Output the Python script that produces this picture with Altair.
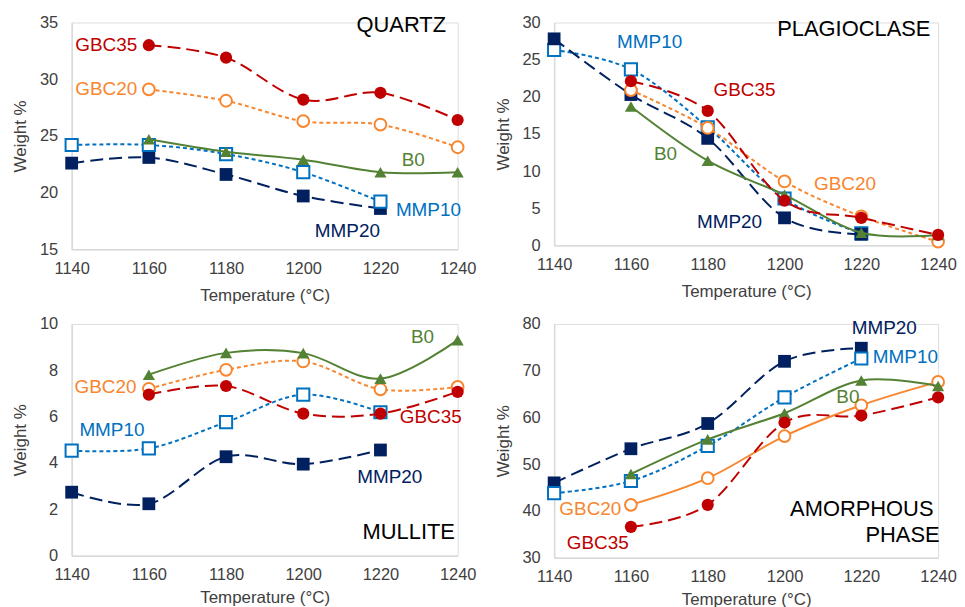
import altair as alt
import pandas as pd

temps = [1140, 1160, 1180, 1200, 1220, 1240]
series_names = ["MMP20", "MMP10", "GBC20", "B0", "GBC35"]

# ---- QUARTZ ----
quartz_MMP20 = [22.6, 23.1, 21.6, 19.7, 18.6, None]
quartz_MMP10 = [24.2, 24.2, 23.4, 21.8, 19.2, None]
quartz_GBC20 = [None, 29.1, 28.1, 26.3, 26.0, 24.0]
quartz_B0 = [None, 24.7, 23.6, 22.9, 21.8, 21.8]
quartz_GBC35 = [None, 33.0, 31.9, 28.2, 28.8, 26.4]

# ---- PLAGIOCLASE ----
plag_MMP20 = [27.8, 20.3, 14.4, 3.7, 1.5, None]
plag_MMP10 = [26.3, 23.7, 15.9, 6.3, 1.6, None]
plag_GBC20 = [None, 20.9, 15.8, 8.6, 3.9, 0.5]
plag_B0 = [None, 18.7, 11.4, 6.8, 1.7, 1.4]
plag_GBC35 = [None, 22.1, 18.1, 6.0, 3.7, 1.4]

# ---- MULLITE ----
mull_MMP20 = [2.74, 2.24, 4.27, 3.95, 4.56, None]
mull_MMP10 = [4.53, 4.63, 5.76, 6.95, 6.19, None]
mull_GBC20 = [None, 7.2, 8.02, 8.38, 7.18, 7.28]
mull_B0 = [None, 7.81, 8.75, 8.74, 7.64, 9.3]
mull_GBC35 = [None, 6.95, 7.32, 6.13, 6.13, 7.07]

# ---- AMORPHOUS PHASE ----
amor_MMP20 = [46.0, 53.3, 58.7, 72.0, 74.8, None]
amor_MMP10 = [43.8, 46.4, 53.9, 64.3, 72.6, None]
amor_GBC20 = [None, 41.3, 47.0, 56.0, 62.6, 67.6]
amor_B0 = [None, 47.9, 55.3, 60.9, 67.9, 66.7]
amor_GBC35 = [None, 36.6, 41.3, 58.9, 60.4, 64.3]

# labels: text, temperature, value, align
quartz_labels = [["GBC35", 1157, 33.0, "right"], ["GBC20", 1157, 29.1, "right"],
                 ["B0", 1225.5, 22.9, "left"], ["MMP10", 1224, 18.5, "left"],
                 ["MMP20", 1203, 16.6, "left"]]
plag_labels = [["MMP10", 1156.4, 27.4, "left"], ["GBC35", 1181.5, 20.9, "left"],
               ["B0", 1166, 12.3, "left"], ["GBC20", 1207.7, 8.2, "left"],
               ["MMP20", 1177.2, 3.2, "left"]]
mull_labels = [["B0", 1227.9, 9.43, "left"], ["GBC20", 1156.8, 7.28, "right"],
               ["MMP10", 1142, 5.44, "left"], ["GBC35", 1225, 5.99, "left"],
               ["MMP20", 1214, 3.41, "left"]]
amor_labels = [["MMP20", 1217.5, 79.1, "left"], ["MMP10", 1223, 72.9, "left"],
               ["B0", 1213.5, 64.4, "left"], ["GBC20", 1157.5, 40.5, "right"],
               ["GBC35", 1143.3, 33.2, "left"]]

quartz_title = [["QUARTZ", 1237, 34.8]]
plag_title = [["PLAGIOCLASE", 1238, 29.1]]
mull_title = [["MULLITE", 1239.3, 1.0]]
amor_title = [["AMORPHOUS", 1238.8, 40.3], ["PHASE", 1240.4, 34.8]]

FONT = "Liberation Sans"
AXIS_COLOR = "#404040"

style = {
    "MMP20": dict(color="#002060", dash=[13, 6], shape="square", open=False, size=165),
    "MMP10": dict(color="#0070C0", dash=[4, 3], shape="square", open=True, size=150),
    "GBC20": dict(color="#F7862F", dash=[4, 3], shape="circle", open=True, size=140),
    "B0": dict(color="#548235", dash=None, shape="triangle-up", open=False, size=150),
    "GBC35": dict(color="#C00000", dash=[13, 6], shape="circle", open=False, size=150),
}


def panel(series, labels, titles, ymin, ymax, ystep, width, height, solid=(),
          order=series_names, x_title_pad=10):
    xenc = alt.X("temp:Q", scale=alt.Scale(domain=[1140, 1240], nice=False),
                 axis=alt.Axis(values=temps, format="d", title="Temperature (°C)",
                               grid=False, ticks=False, tickSize=0,
                               domainColor="#D9D9D9", domainWidth=1.5,
                               labelFlush=False, labelFontSize=16.5, labelColor=AXIS_COLOR,
                               labelFont=FONT, labelPadding=11,
                               titleFont=FONT, titleFontSize=17, titleFontWeight="normal",
                               titleColor=AXIS_COLOR, titlePadding=x_title_pad))
    yenc = lambda field: alt.Y(field, scale=alt.Scale(domain=[ymin, ymax], nice=False),
                               axis=alt.Axis(values=list(range(ymin, ymax + 1, ystep)),
                                             title="Weight %", grid=False, ticks=False, tickSize=0,
                                             domainColor="#D9D9D9", domainWidth=1.5,
                                             labelFontSize=16.5, labelColor=AXIS_COLOR,
                                             labelFont=FONT, labelPadding=14,
                                             titleFont=FONT, titleFontSize=17,
                                             titleFontWeight="normal", titleColor=AXIS_COLOR,
                                             titlePadding=10))
    layers = []
    for name in order:
        vals = series[name]
        df = pd.DataFrame({"temp": temps, "val": vals}).dropna()
        st = style[name]
        line_kw = dict(color=st["color"], strokeWidth=2, interpolate="cardinal", tension=0)
        if st["dash"] is not None and name not in solid:
            line_kw["strokeDash"] = st["dash"]
        base = alt.Chart(df)
        layers.append(base.mark_line(**line_kw).encode(x=xenc, y=yenc("val:Q")))
        if st["open"]:
            pt = base.mark_point(shape=st["shape"], filled=True, fill="white",
                                 stroke=st["color"], strokeWidth=2, size=st["size"], opacity=1)
        else:
            pt = base.mark_point(shape=st["shape"], filled=True, color=st["color"],
                                 size=st["size"], opacity=1)
        layers.append(pt.encode(x=xenc, y=yenc("val:Q")))
    for text, t, v, align in labels:
        df = pd.DataFrame({"temp": [t], "val": [v], "txt": [text]})
        layers.append(alt.Chart(df).mark_text(align=align, baseline="middle", font=FONT,
                                              fontSize=19, color=style[text]["color"])
                      .encode(x=xenc, y=yenc("val:Q"), text="txt:N"))
    for text, t, v in titles:
        df = pd.DataFrame({"temp": [t], "val": [v], "txt": [text]})
        layers.append(alt.Chart(df).mark_text(align="right", baseline="middle", font=FONT,
                                              fontSize=22, color="#000000")
                      .encode(x=xenc, y=yenc("val:Q"), text="txt:N"))
    return alt.layer(*layers).properties(width=width, height=height)


q = panel({"MMP20": quartz_MMP20, "MMP10": quartz_MMP10, "GBC20": quartz_GBC20,
           "B0": quartz_B0, "GBC35": quartz_GBC35}, quartz_labels, quartz_title,
          15, 35, 5, 388, 228, x_title_pad=11)
p = panel({"MMP20": plag_MMP20, "MMP10": plag_MMP10, "GBC20": plag_GBC20,
           "B0": plag_B0, "GBC35": plag_GBC35}, plag_labels, plag_title,
          0, 30, 5, 386, 224, order=["MMP10", "MMP20", "GBC20", "B0", "GBC35"],
          x_title_pad=11)
m = panel({"MMP20": mull_MMP20, "MMP10": mull_MMP10, "GBC20": mull_GBC20,
           "B0": mull_B0, "GBC35": mull_GBC35}, mull_labels, mull_title,
          0, 10, 2, 388, 233, x_title_pad=7)
a = panel({"MMP20": amor_MMP20, "MMP10": amor_MMP10, "GBC20": amor_GBC20,
           "B0": amor_B0, "GBC35": amor_GBC35}, amor_labels, amor_title,
          30, 80, 10, 386, 235, solid=("GBC20",), x_title_pad=7)

chart = alt.concat(
    q, p, m, a, columns=2, bounds="flush",
    spacing={"row": 75, "column": 97},
).properties(padding={"left": 3, "top": 3, "right": 0, "bottom": -2}
).configure_view(stroke=None).configure(background="white")

chart.save("out.html", embed_options={"renderer": "svg", "actions": False})
